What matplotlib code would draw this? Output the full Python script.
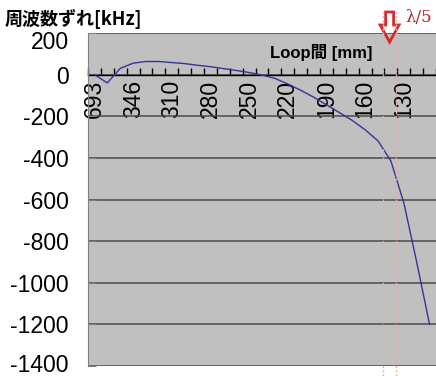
import matplotlib
matplotlib.use('Agg')
import matplotlib.pyplot as plt
import matplotlib.transforms as mtransforms
from matplotlib.patches import Polygon
from matplotlib.lines import Line2D
import numpy as np

plt.rcParams['font.family'] = ['Liberation Sans', 'Noto Sans CJK JP']

## data
"""
frequency shift vs loop spacing, one point per category (27 categories,
only every 3rd label shown like in the original Excel chart)
"""
shown_labels = ['693', '346', '310', '280', '250', '220', '190', '160', '130']
label_step = 3
freq_shift = [0, -40, 30, 55, 63, 63, 58, 53, 45, 38, 29, 20, 10, -2,
              -18, -45, -75, -108, -145, -182, -220, -265, -318, -415,
              -615, -900, -1200]
y_ticks = list(range(-1400, 201, 200))
lambda_lines = [22.4, 23.4]   # dotted marker lines (category units)
lambda_text = 'λ/5'

n_cat = len(freq_shift)
x_cat = np.arange(n_cat)

fig = plt.figure(figsize=(4.36, 3.76), dpi=100)
ax = fig.add_axes([88 / 436, 10 / 376, 348 / 436, 333 / 376])
ax.set_facecolor('#c0c0c0')

ax.plot(x_cat, freq_shift, color='#34349a', lw=1.0, zorder=3)

ax.set_xlim(-0.5, -0.5 + 348 / 12.97)
ax.set_ylim(-1400, 200)

# y axis
ax.set_yticks(y_ticks)
ax.set_yticklabels([str(v) for v in y_ticks], fontsize=16.5)
ax.yaxis.grid(True, color='#4a4a4a', lw=1.1)
ax.tick_params(axis='y', direction='in', length=6, color='#808080', pad=14)
ax.set_axisbelow(True)
# top label sits a bit lower in the original, bottom one kept inside the image
top_lab = ax.get_yticklabels()[-1]
top_lab.set_transform(top_lab.get_transform() +
                      mtransforms.ScaledTranslation(0, -7 / 100, fig.dpi_scale_trans))
bot_lab = ax.get_yticklabels()[0]
bot_lab.set_transform(bot_lab.get_transform() +
                      mtransforms.ScaledTranslation(0, 3 / 100, fig.dpi_scale_trans))

# x axis sits at y = 0
ax.spines['bottom'].set_position(('data', 0))
ax.spines['bottom'].set_color('black')
ax.spines['bottom'].set_linewidth(1.0)
ax.spines['bottom'].set_zorder(2)
ax.spines['left'].set_color('#808080')
ax.spines['right'].set_visible(False)
ax.spines['top'].set_visible(False)

ax.set_xticks(x_cat[::label_step][:len(shown_labels)])
ax.set_xticklabels(shown_labels, rotation=90, fontsize=16.5)
ax.set_xticks(np.arange(-0.5, n_cat + 0.5, 1), minor=True)
ax.tick_params(axis='x', which='major', length=0, pad=4)
ax.tick_params(axis='x', which='minor', direction='in', length=5, color='black', width=1)
for lab in ax.get_xticklabels():
    lab.set_verticalalignment('top')

ax.text(0.67, 0.94, 'Loop間 [mm]', transform=ax.transAxes, fontsize=12,
        fontweight='bold', ha='center', va='center')

fig.text(5 / 436, 1 - 19 / 376, '周波数ずれ[kHz]', fontsize=13, fontweight='bold',
         ha='left', va='center', family=['Noto Sans CJK JP', 'DejaVu Sans'])

# lambda/5 marker: dotted lines + hollow arrow
blend = mtransforms.blended_transform_factory(ax.transData, fig.transFigure)
for xl in lambda_lines:
    fig.add_artist(Line2D([xl, xl], [0, 1 - 12 / 376], transform=blend,
                          color='#e6b0a6', lw=1.0, linestyle=(0, (1.5, 1.5))))

xc = sum(lambda_lines) / 2
hw, sw = 0.73, 0.31
y_top, y_base, y_tip = 1 - 12 / 376, 1 - 25 / 376, 1 - 42 / 376
arrow = Polygon([[xc - sw, y_top], [xc + sw, y_top], [xc + sw, y_base],
                 [xc + hw, y_base], [xc, y_tip], [xc - hw, y_base],
                 [xc - sw, y_base]], closed=True, transform=blend,
                fill=False, edgecolor='#d8282e', lw=2.0, joinstyle='miter')
fig.add_artist(arrow)
fig.text(405 / 436, 1 - 17 / 376, lambda_text, color='#c0262c', fontsize=12,
         ha='left', va='center', family='DejaVu Serif')

fig.savefig('out.png', dpi=100)
